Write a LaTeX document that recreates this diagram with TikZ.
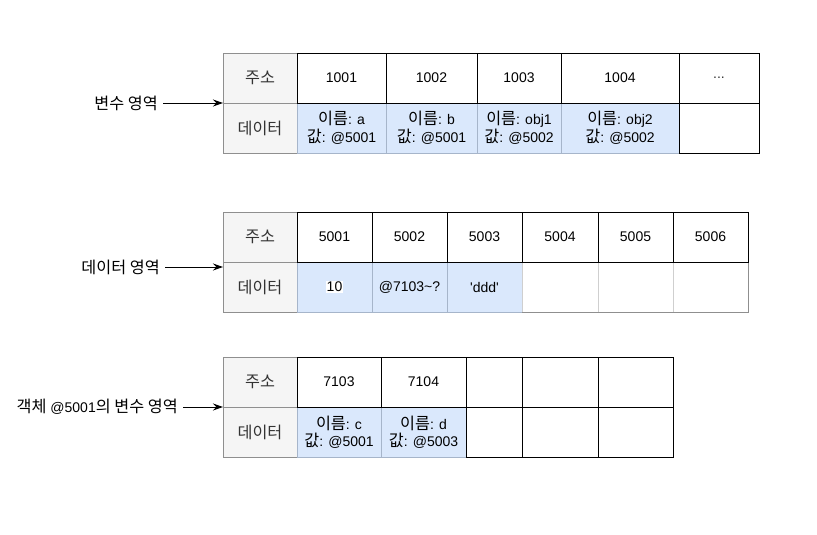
\documentclass[tikz,border=0pt]{standalone}
\usepackage{fontspec}
\setmainfont{Liberation Sans}
\newfontfamily\krfont[Scale=1.16]{Noto Sans CJK KR}
\usetikzlibrary{arrows.meta}
\newcommand{\kr}[1]{{\krfont #1}}
\newcommand{\sq}{\textquotesingle}
\definecolor{headfill}{HTML}{F5F5F5}
\definecolor{headline}{HTML}{8F8F8F}
\definecolor{headtext}{HTML}{333333}
\definecolor{usedfill}{HTML}{DAE8FC}
\definecolor{usedline}{HTML}{A6B5CA}
\definecolor{blankline}{HTML}{CFCFCF}

\begin{document}
\begin{tikzpicture}[x=1pt, y=-1pt,
    cell/.style={draw=black, minimum height=50pt, inner sep=0pt, outer sep=0pt,
      align=center, font=\fontsize{14}{17.5}\selectfont},
    head/.style={cell, fill=headfill, draw=headline, text=headtext, minimum width=74pt},
    used/.style={cell, fill=usedfill, draw=usedline},
    blank/.style={cell, draw=blankline},
    area/.style={anchor=east, inner sep=0pt, font=\fontsize{14}{17.5}\selectfont},
    pointer/.style={-{Stealth[length=10pt,width=7pt]}, line width=1pt, shorten <=5pt}]
    \useasboundingbox (0,0) rectangle (817,535);

    % variable area
    \node[head] (vh1) at (260,78) {\kr{주소}};
    \node[head] (vh2) at (260,128) {\kr{데이터}};
    \node[used, minimum width=89pt] (vd1) at (341.5,128) {\kr{이름}: a\\\kr{값}: @5001};
    \node[used, minimum width=91pt] (vd2) at (431.5,128) {\kr{이름}: b\\\kr{값}: @5001};
    \node[used, minimum width=84pt] (vd3) at (519,128) {\kr{이름}: obj1\\\kr{값}: @5002};
    \node[used, minimum width=118pt] (vd4) at (620,128) {\kr{이름}: obj2\\\kr{값}: @5002};
    \node[cell, minimum width=80pt] (vd5) at (719,128) {};
    \node[cell, minimum width=89pt] (va1) at (341.5,78) {1001};
    \node[cell, minimum width=91pt] (va2) at (431.5,78) {1002};
    \node[cell, minimum width=84pt] (va3) at (519,78) {1003};
    \node[cell, minimum width=118pt] (va4) at (620,78) {1004};
    \node[cell, minimum width=80pt, text=headtext] (va5) at (719,78) {...};

    % data area
    \node[head] (dh1) at (260,237) {\kr{주소}};
    \node[head] (dh2) at (260,287) {\kr{데이터}};
    \node[used, minimum width=75pt] (dd1) at (334.5,287) {\setlength{\fboxsep}{1pt}\colorbox{white}{10}};
    \node[used, minimum width=75pt] (dd2) at (409.5,287) {@7103\textasciitilde?};
    \node[used, minimum width=75pt] (dd3) at (484.5,287) {\sq ddd\sq};
    \node[blank, minimum width=76pt] (dd4) at (560,287) {};
    \node[blank, minimum width=75pt] (dd5) at (635.5,287) {};
    \node[blank, minimum width=75pt] (dd6) at (710.5,287) {};
    \draw[headline] (dd4.south west) -- (dd6.south east) -- (dd6.north east);
    \node[cell, minimum width=75pt] (da1) at (334.5,237) {5001};
    \node[cell, minimum width=75pt] (da2) at (409.5,237) {5002};
    \node[cell, minimum width=75pt] (da3) at (484.5,237) {5003};
    \node[cell, minimum width=76pt] (da4) at (560,237) {5004};
    \node[cell, minimum width=75pt] (da5) at (635.5,237) {5005};
    \node[cell, minimum width=75pt] (da6) at (710.5,237) {5006};

    % object area
    \node[head] (oh1) at (260,382) {\kr{주소}};
    \node[head] (oh2) at (260,432) {\kr{데이터}};
    \node[used, minimum width=84pt] (od1) at (339,432) {\kr{이름}: c\\\kr{값}: @5001};
    \node[used, minimum width=85pt] (od2) at (423.5,432) {\kr{이름}: d\\\kr{값}: @5003};
    \node[cell, minimum width=56pt] (od3) at (494,432) {};
    \node[cell, minimum width=76pt] (od4) at (560,432) {};
    \node[cell, minimum width=75pt] (od5) at (635.5,432) {};
    \node[cell, minimum width=84pt] (oa1) at (339,382) {7103};
    \node[cell, minimum width=85pt] (oa2) at (423.5,382) {7104};
    \node[cell, minimum width=56pt] (oa3) at (494,382) {};
    \node[cell, minimum width=76pt] (oa4) at (560,382) {};
    \node[cell, minimum width=75pt] (oa5) at (635.5,382) {};

    \node[area] (varea) at (158,103) {\kr{변수 영역}};
    \node[area] (darea) at (160,267) {\kr{데이터 영역}};
    \node[area] (oarea) at (178,407) {\kr{객체} @5001\kr{의 변수 영역}};
    \draw[pointer] (varea) -- (varea -| vh1.west);
    \draw[pointer] (darea) -- (darea -| dh1.west);
    \draw[pointer] (oarea) -- (oarea -| oh1.west);
  \end{tikzpicture}
\end{document}
